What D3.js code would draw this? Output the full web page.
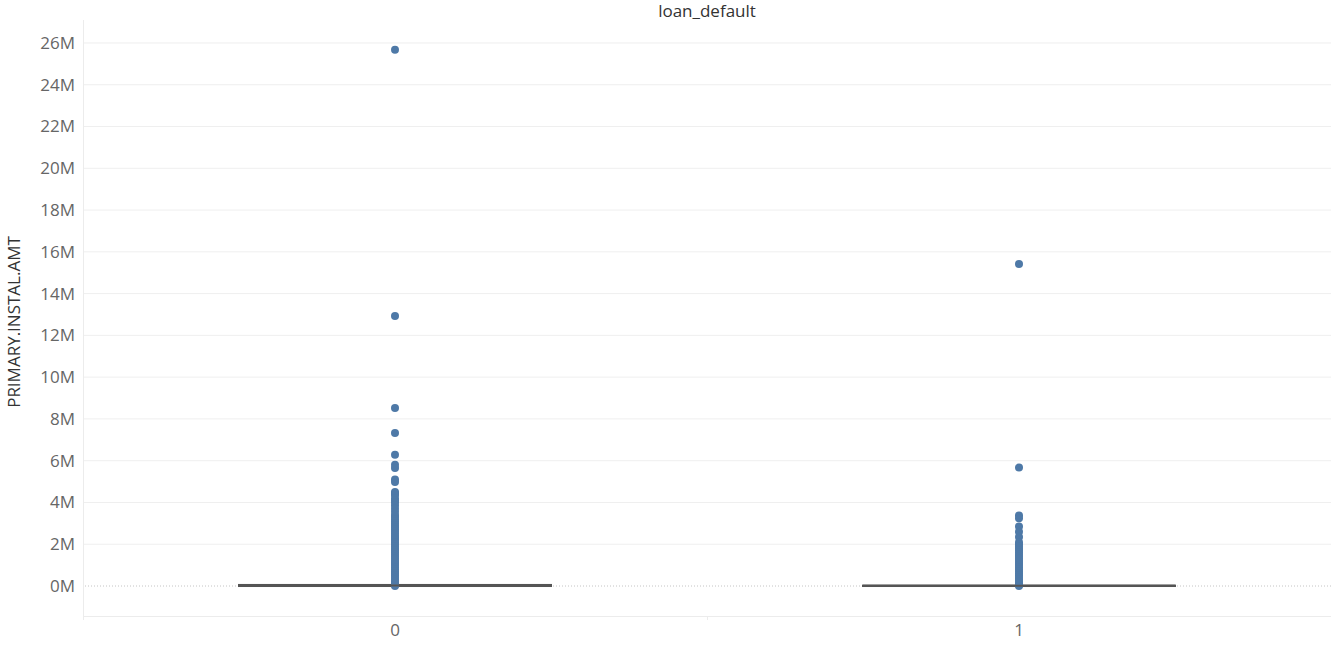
<!DOCTYPE html>
<html>
<head>
<meta charset="utf-8">
<script src="https://cdn.jsdelivr.net/npm/d3@7"></script>
<style>
  body { margin: 0; background: #fff; }
  svg { display: block; font-family: "Open Sans", "Noto Sans", sans-serif; }
</style>
</head>
<body>
<svg id="chart" width="1331" height="645"></svg>
<script>
// loan_default categories and PRIMARY.INSTAL.AMT values (millions)
const categories = ["0", "1"];

const amountsDefault0 = [
  25.67, 12.93, 8.52, 7.33, 6.29, 5.80, 5.65, 5.10, 4.98, 4.50, 4.43, 4.36,
  4.20, 4.10, 4.00, 3.85, 3.70, 3.55, 3.40, 3.30, 3.20, 3.10,
  3.00, 2.90, 2.80, 2.70, 2.60, 2.50, 2.40, 2.30, 2.20, 2.10, 2.00, 1.90,
  1.80, 1.70, 1.60, 1.50, 1.40, 1.30, 1.20, 1.10, 1.00, 0.90, 0.80, 0.70,
  0.60, 0.50, 0.40, 0.30, 0.20, 0.10, 0.05, 0.00
];

const amountsDefault1 = [
  15.42, 5.67, 3.38, 3.25, 2.85, 2.60, 2.35, 2.10,
  2.00, 1.90, 1.80, 1.70, 1.60, 1.50, 1.40, 1.30, 1.20, 1.10, 1.00, 0.90,
  0.80, 0.70, 0.60, 0.50, 0.40, 0.30, 0.20, 0.10, 0.05, 0.00
];

// box statistics (millions)
const boxQ1 = [0.00, 0.00];
const boxMedian = [0.02, 0.01];
const boxQ3 = [0.05, 0.02];

const yTicks = [0, 2, 4, 6, 8, 10, 12, 14, 16, 18, 20, 22, 24, 26];

const svg = d3.select("#chart");
const width = 1331, height = 645;
const margin = { top: 20, right: 0, bottom: 29, left: 83 };
const plotBottom = height - margin.bottom;

const x = d3.scaleBand()
    .domain(categories)
    .range([margin.left, width - margin.right]);

const y = d3.scaleLinear()
    .domain([-1.436, 27.1])
    .range([plotBottom, margin.top]);

const series = [amountsDefault0, amountsDefault1];

// gridlines
svg.append("g")
    .selectAll("line")
    .data(yTicks.filter(d => d !== 0))
    .join("line")
    .attr("x1", margin.left)
    .attr("x2", width - margin.right)
    .attr("y1", d => y(d))
    .attr("y2", d => y(d))
    .attr("stroke", "#efefef")
    .attr("stroke-width", 1);

// zero line (dotted)
svg.append("line")
    .attr("x1", margin.left + 2)
    .attr("x2", width - margin.right)
    .attr("y1", y(0))
    .attr("y2", y(0))
    .attr("stroke", "#c4c4c4")
    .attr("stroke-width", 1)
    .attr("stroke-dasharray", "1,2");

// pane borders
svg.append("line")
    .attr("x1", margin.left + 0.5).attr("x2", margin.left + 0.5)
    .attr("y1", margin.top).attr("y2", plotBottom + 4)
    .attr("stroke", "#ececec");
svg.append("line")
    .attr("x1", margin.left).attr("x2", width - margin.right)
    .attr("y1", plotBottom + 0.5).attr("y2", plotBottom + 0.5)
    .attr("stroke", "#ececec");
svg.append("line")
    .attr("x1", x("1") + 0.5).attr("x2", x("1") + 0.5)
    .attr("y1", plotBottom).attr("y2", plotBottom + 4)
    .attr("stroke", "#ececec");

// y axis labels
const yAxis = svg.append("g")
    .attr("transform", `translate(${margin.left},0)`)
    .call(d3.axisLeft(y).tickValues(yTicks).tickFormat(d => d + "M").tickSize(0).tickPadding(8));
yAxis.select(".domain").remove();
yAxis.selectAll("text")
    .attr("font-size", 17)
    .attr("fill", "#666")
    .attr("font-family", "'Open Sans', sans-serif");

// x axis labels
const xAxis = svg.append("g")
    .attr("transform", `translate(0,${plotBottom})`)
    .call(d3.axisBottom(x).tickSize(0).tickPadding(8));
xAxis.select(".domain").remove();
xAxis.selectAll("text")
    .attr("font-size", 17)
    .attr("fill", "#666")
    .attr("font-family", "'Open Sans', sans-serif");

// boxes
const boxHalf = x.bandwidth() / 4;
svg.append("g")
    .selectAll("rect")
    .data(categories)
    .join("rect")
    .attr("x", d => x(d) + x.bandwidth() / 2 - boxHalf)
    .attr("width", boxHalf * 2)
    .attr("y", (d, i) => y(boxQ3[i]))
    .attr("height", (d, i) => y(boxQ1[i]) - y(boxQ3[i]))
    .attr("fill", "#555")
    .attr("stroke", "#555")
    .attr("stroke-width", 2);

// points
series.forEach((vals, i) => {
    svg.append("g")
        .selectAll("circle")
        .data(vals)
        .join("circle")
        .attr("cx", x(categories[i]) + x.bandwidth() / 2)
        .attr("cy", d => y(d))
        .attr("r", 4)
        .attr("fill", "#4e79a7");
});

// median line over box
svg.append("g")
    .selectAll("line")
    .data(categories)
    .join("line")
    .attr("x1", d => x(d) + x.bandwidth() / 2 - boxHalf)
    .attr("x2", d => x(d) + x.bandwidth() / 2 + boxHalf)
    .attr("y1", (d, i) => y(boxMedian[i]))
    .attr("y2", (d, i) => y(boxMedian[i]))
    .attr("stroke", "#555")
    .attr("stroke-width", 2);

// title
svg.append("text")
    .attr("x", (margin.left + width - margin.right) / 2)
    .attr("y", 17)
    .attr("text-anchor", "middle")
    .attr("font-size", 17)
    .attr("fill", "#333")
    .text("loan_default");

// y axis title
svg.append("text")
    .attr("transform", `translate(20,${(margin.top + plotBottom) / 2 + 4}) rotate(-90)`)
    .attr("text-anchor", "middle")
    .attr("font-size", 17)
    .attr("fill", "#333")
    .text("PRIMARY.INSTAL.AMT");
</script>
</body>
</html>
